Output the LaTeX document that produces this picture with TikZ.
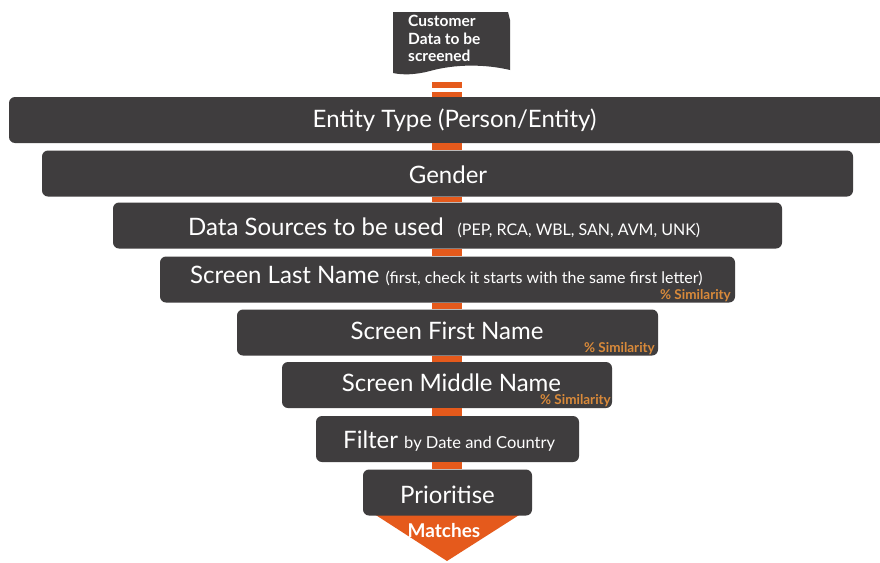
\documentclass[tikz,border=0pt]{standalone}
\usepackage{fontspec}
\setmainfont{Lato}
\definecolor{boxgray}{HTML}{3F3D3E}
\definecolor{flow}{HTML}{E55A1C}
\definecolor{simcol}{HTML}{D98A3A}
\newcommand{\subtext}{\fontsize{16}{18}\selectfont}
\tikzset{
  box/.style={fill=boxgray, rounded corners=6pt, inner sep=0pt, minimum height=46pt},
  lbl/.style={text=white, inner sep=0pt, font=\fontsize{24}{28}\selectfont},
  simil/.style={text=simcol, inner sep=0pt, anchor=south east, font=\bfseries\fontsize{13.5}{15}\selectfont},
  conn/.style={flow, line width=30pt},
}
\begin{document}
\begin{tikzpicture}[x=1pt,y=-1pt]
\useasboundingbox (0,0) rectangle (880,562);
\clip (0,0) rectangle (880,562);
\fill[white] (0,0) rectangle (880,562);

\coordinate (spine) at (447,0);

% input document with wavy lower edge
\fill[boxgray] (393,12) -- (508,12) -- (510,20) -- (510,70)
  .. controls (485,64) and (455,64) .. (430,71)
  .. controls (415,75) and (402,75) .. (393,73) -- cycle;
\node[text=white, align=left, anchor=north west, inner sep=0pt,
  font=\bfseries\fontsize{15.5}{17.5}\selectfont] (cust) at (408,15)
  {Customer\\Data to be\\screened};

% the flow spine, drawn behind the boxes
\coordinate (docend) at (447,82);
\draw[conn] (docend) -- (447,97);
\draw[white, line width=4pt] (430,89.5) -- (465,89.5);

% outgoing matches
\fill[flow] (368,510) -- (527,510) -- (447,561) -- cycle;

% funnel stages
\node[box, minimum width=876pt] (entity) at (447,120) {};
\node[box, minimum width=811pt] (gender) at (447.5,173.5) {};
\node[box, minimum width=669pt] (sources) at (447.5,225.5) {};
\node[box, minimum width=575pt] (last) at (447.5,279.5) {};
\node[box, minimum width=421pt] (first) at (447.5,332.5) {};
\node[box, minimum width=330pt] (middle) at (447,385) {};
\node[box, minimum width=263pt] (filter) at (447.5,439) {};
\node[box, minimum width=169pt] (prio) at (447.5,492.5) {};

% connectors between consecutive stages
\foreach \a/\b in {entity/gender, gender/sources, sources/last, last/first,
                   first/middle, middle/filter, filter/prio}
  \draw[conn] (\a.south -| spine) -- (\b.north -| spine);

% stage labels
\node[lbl] (t1) at (454.5,120) {Entity Type (Person/Entity)};
\node[lbl] (t2) at (448,175) {Gender};
\node[lbl, anchor=west] (t3) at (188,228) {Data Sources to be used\hspace{14pt}{\subtext (PEP, RCA, WBL, SAN, AVM, UNK)}};
\node[lbl, anchor=west] (t4) at (190,276) {Screen Last Name {\subtext (first, check it starts with the same first letter)}};
\node[lbl] (t5) at (447,331) {Screen First Name};
\node[lbl] (t6) at (451.5,383) {Screen Middle Name};
\node[lbl, anchor=west] (t7) at (343,441) {Filter {\fontsize{16.5}{19}\selectfont by Date and Country}};
\node[lbl] (t8) at (447.5,495) {Prioritise};
\node[text=white, inner sep=0pt, font=\bfseries\fontsize{19}{22}\selectfont] (t9) at (444,531) {Matches};

% similarity notes
\node[simil] (s1) at (731,302) {\% Similarity};
\node[simil] (s2) at (655,355) {\% Similarity};
\node[simil] (s3) at (611,407) {\% Similarity};
\end{tikzpicture}
\end{document}
